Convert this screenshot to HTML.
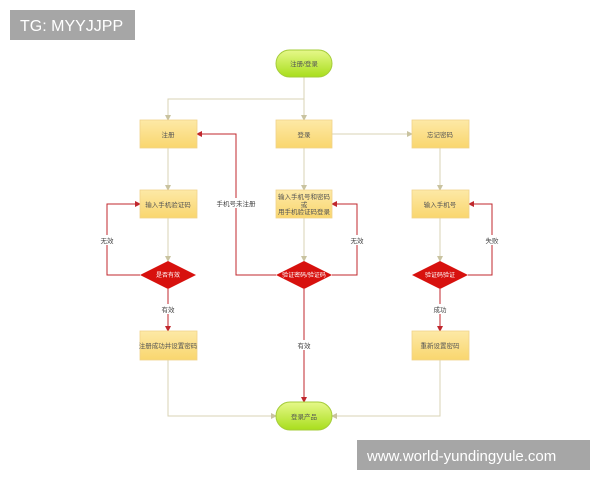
<!DOCTYPE html>
<html><head><meta charset="utf-8"><style>
html,body{margin:0;padding:0;background:#fff;width:600px;height:480px;overflow:hidden}
svg text{font-family:"Liberation Sans","Noto Sans CJK SC",sans-serif}
</style></head><body>
<svg width="600" height="480" viewBox="0 0 600 480" xmlns="http://www.w3.org/2000/svg">
<defs>
<linearGradient id="bx" x1="0" y1="0" x2="0" y2="1"><stop offset="0" stop-color="#fde9a6"/><stop offset="1" stop-color="#f9d66e"/></linearGradient>
<linearGradient id="gr" x1="0" y1="0" x2="0" y2="1"><stop offset="0" stop-color="#e6f88a"/><stop offset="1" stop-color="#a8de1c"/></linearGradient>
<marker id="ag" markerWidth="6" markerHeight="6" refX="5" refY="3" orient="auto" markerUnits="userSpaceOnUse"><path d="M0,0 L6,3 L0,6 Z" fill="#c9c3a0"/></marker>
<marker id="ar" markerWidth="6" markerHeight="6" refX="5" refY="3" orient="auto" markerUnits="userSpaceOnUse"><path d="M0,0 L6,3 L0,6 Z" fill="#c0272d"/></marker>
</defs>
<g fill="none" stroke="#d8d3b4" stroke-width="1">
<path d="M304 77 V120" marker-end="url(#ag)"/>
<path d="M304 99 H168 V120" marker-end="url(#ag)"/>
<path d="M332 134 H412" marker-end="url(#ag)"/>
<path d="M168 148 V190" marker-end="url(#ag)"/>
<path d="M304 148 V190" marker-end="url(#ag)"/>
<path d="M440 148 V190" marker-end="url(#ag)"/>
<path d="M168 218 V261" marker-end="url(#ag)"/>
<path d="M304 218 V261" marker-end="url(#ag)"/>
<path d="M440 218 V261" marker-end="url(#ag)"/>
<path d="M168 360 V416 H276" marker-end="url(#ag)"/>
<path d="M440 360 V416 H332" marker-end="url(#ag)"/>
</g>
<g fill="none" stroke="#c0272d" stroke-width="1">
<path d="M140 275 H107 V204 H140" marker-end="url(#ar)"/>
<path d="M276 275 H236 V134 H197" marker-end="url(#ar)"/>
<path d="M332 275 H357 V204 H332" marker-end="url(#ar)"/>
<path d="M468 275 H492 V204 H469" marker-end="url(#ar)"/>
<path d="M168 289 V331" marker-end="url(#ar)"/>
<path d="M304 289 V402" marker-end="url(#ar)"/>
<path d="M440 289 V331" marker-end="url(#ar)"/>
</g>
<g fill="url(#bx)" stroke="#f0d38a" stroke-width="0.8">
<rect x="140" y="120" width="57" height="28"/>
<rect x="276" y="120" width="56" height="28"/>
<rect x="412" y="120" width="57" height="28"/>
<rect x="140" y="190" width="57" height="28"/>
<rect x="276" y="190" width="56" height="28"/>
<rect x="412" y="190" width="57" height="28"/>
<rect x="140" y="331" width="57" height="29"/>
<rect x="412" y="331" width="57" height="29"/>
</g>
<rect x="276" y="50" width="56" height="27" rx="13.5" fill="url(#gr)" stroke="#a5cc3a"/>
<rect x="276" y="402" width="56" height="28" rx="14" fill="url(#gr)" stroke="#a5cc3a"/>
<g fill="#d7110e">
<path d="M140 275 L168 261 L196 275 L168 289 Z"/>
<path d="M276 275 L304 261 L332 275 L304 289 Z"/>
<path d="M412 275 L440 261 L468 275 L440 289 Z"/>
</g>
<g font-size="6.5" fill="#555" text-anchor="middle">
<text x="304" y="66">注册/登录</text>
<text x="168" y="137">注册</text>
<text x="304" y="137">登录</text>
<text x="440" y="137">忘记密码</text>
<text x="168" y="207">输入手机验证码</text>
<text x="304" y="199">输入手机号和密码</text>
<text x="304" y="207">或</text>
<text x="304" y="214">用手机验证码登录</text>
<text x="440" y="207">输入手机号</text>
<text x="168" y="348">注册成功并设置密码</text>
<text x="440" y="348">重新设置密码</text>
<text x="304" y="419">登录产品</text>
<g fill="#444">
<rect x="96" y="235" width="22" height="10" fill="#fff"/><text x="107" y="243">无效</text>
<rect x="220" y="198" width="32" height="10" fill="#fff"/><text x="236" y="206">手机号未注册</text>
<rect x="346" y="235" width="22" height="10" fill="#fff"/><text x="357" y="243">无效</text>
<rect x="481" y="235" width="22" height="10" fill="#fff"/><text x="492" y="243">失败</text>
<rect x="157" y="304" width="22" height="10" fill="#fff"/><text x="168" y="312">有效</text>
<rect x="293" y="340" width="22" height="10" fill="#fff"/><text x="304" y="348">有效</text>
<rect x="429" y="304" width="22" height="10" fill="#fff"/><text x="440" y="312">成功</text>
</g>
<g fill="#fff" font-size="6">
<text x="168" y="277">是否有效</text>
<text x="304" y="277">验证密码/验证码</text>
<text x="440" y="277">验证码验证</text>
</g>
</g>
<rect x="10" y="10" width="125" height="30" fill="#a6a6a6"/>
<text x="20" y="31" font-size="16" fill="#fff">TG: MYYJJPP</text>
<rect x="357" y="440" width="233" height="30" fill="#a6a6a6"/>
<text x="367" y="461" font-size="15" fill="#fff">www.world-yundingyule.com</text>
</svg>
</body></html>
